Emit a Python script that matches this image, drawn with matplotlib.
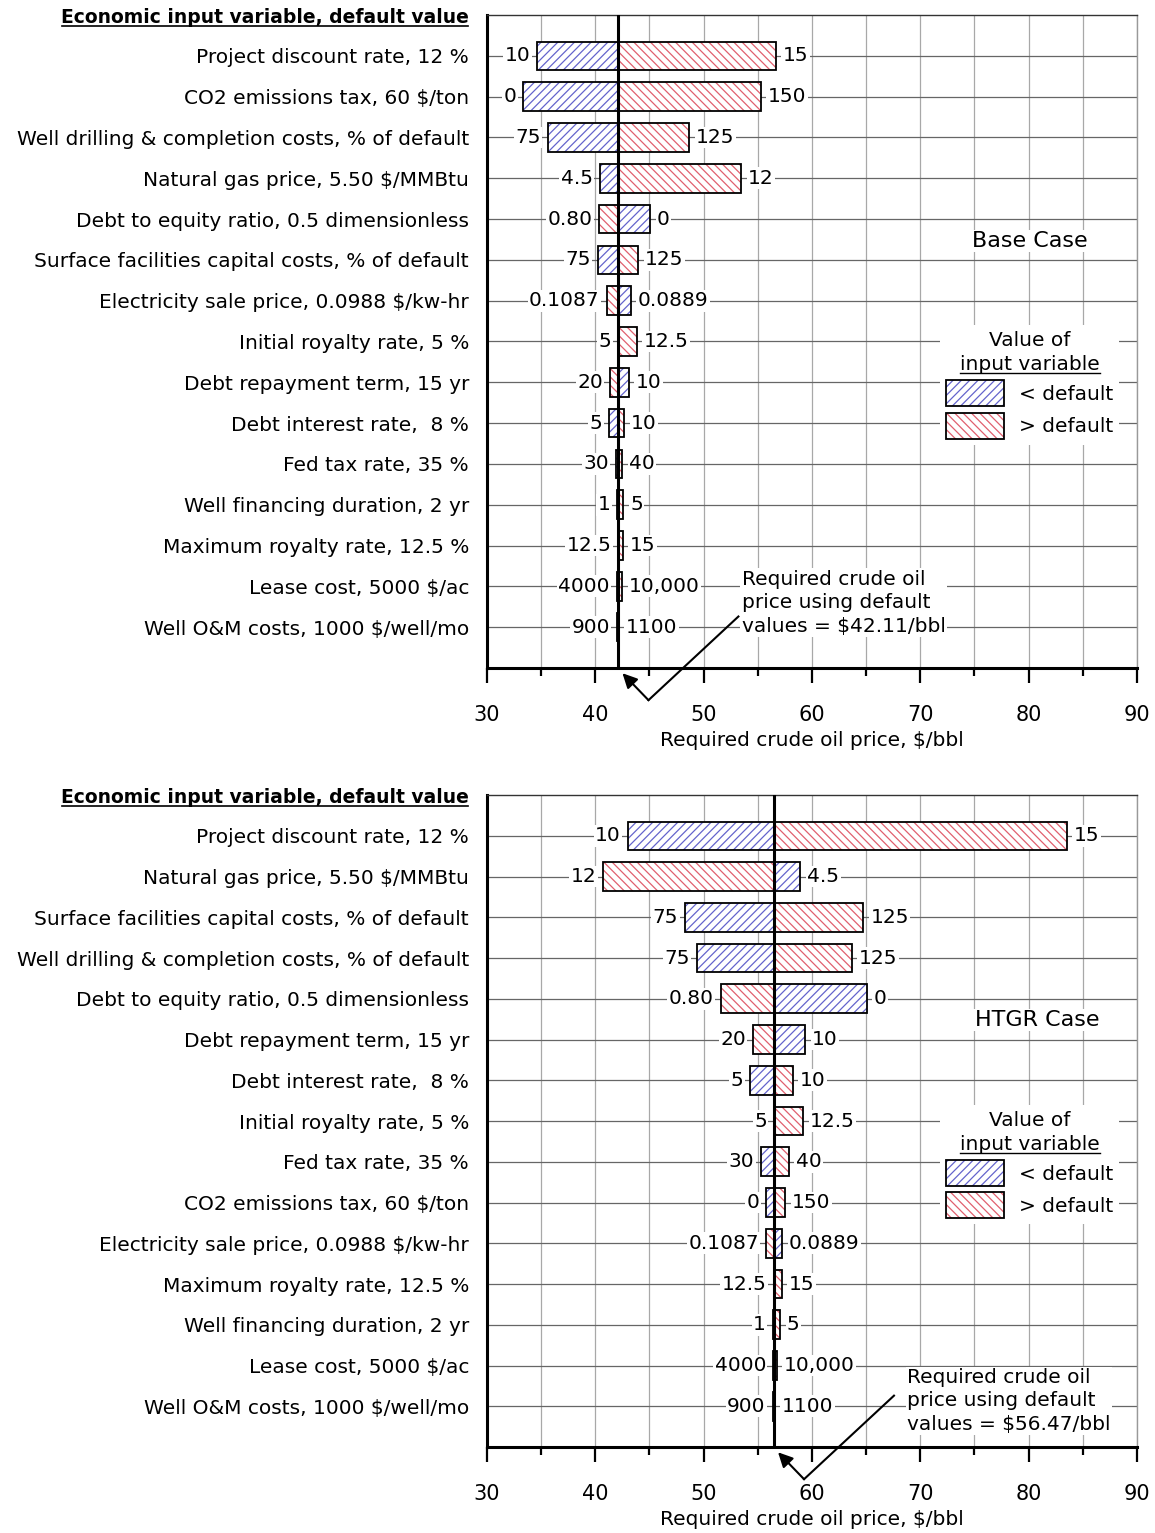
import matplotlib
matplotlib.use('Agg')
import matplotlib.pyplot as plt
from matplotlib.patches import Patch
from matplotlib.lines import Line2D
from matplotlib.legend_handler import HandlerTuple
from matplotlib.transforms import IdentityTransform
from matplotlib.ticker import MultipleLocator
import numpy as np

plt.rcParams['font.family'] = ['DejaVu Sans']
plt.rcParams['hatch.linewidth'] = 0.9

BLUE = '#6464cc'
PINK = '#e0606e'
HEADER = 'Economic input variable, default value'
XLABEL = 'Required crude oil price, $/bbl'

# ---- Base case ----
base_default = 42.11
base_vars = ['Project discount rate, 12 %',
             'CO2 emissions tax, 60 $/ton',
             'Well drilling & completion costs, % of default',
             'Natural gas price, 5.50 $/MMBtu',
             'Debt to equity ratio, 0.5 dimensionless',
             'Surface facilities capital costs, % of default',
             'Electricity sale price, 0.0988 $/kw-hr',
             'Initial royalty rate, 5 %',
             'Debt repayment term, 15 yr',
             'Debt interest rate,  8 %',
             'Fed tax rate, 35 %',
             'Well financing duration, 2 yr',
             'Maximum royalty rate, 12.5 %',
             'Lease cost, 5000 $/ac',
             'Well O&M costs, 1000 $/well/mo']
# input value below default (blue) and resulting oil price
base_low_lab = ['10', '0', '75', '4.5', '0', '75', '0.0889', '5', '10', '5',
                '30', '1', '12.5', '4000', '900']
base_low = [34.65, 33.35, 35.6, 40.4, 45.05, 40.22, 43.27, 42.11, 43.1, 41.29,
            41.87, 42.05, 42.11, 41.97, 42.0]
# input value above default (pink) and resulting oil price
base_high_lab = ['15', '150', '125', '12', '0.80', '125', '0.1087', '12.5', '20', '10',
                 '40', '5', '15', '10,000', '1100']
base_high = [56.65, 55.27, 48.68, 53.48, 40.37, 43.97, 41.05, 43.82, 41.35, 42.68,
             42.48, 42.57, 42.55, 42.48, 42.18]

# ---- HTGR case ----
htgr_default = 56.47
htgr_vars = ['Project discount rate, 12 %',
             'Natural gas price, 5.50 $/MMBtu',
             'Surface facilities capital costs, % of default',
             'Well drilling & completion costs, % of default',
             'Debt to equity ratio, 0.5 dimensionless',
             'Debt repayment term, 15 yr',
             'Debt interest rate,  8 %',
             'Initial royalty rate, 5 %',
             'Fed tax rate, 35 %',
             'CO2 emissions tax, 60 $/ton',
             'Electricity sale price, 0.0988 $/kw-hr',
             'Maximum royalty rate, 12.5 %',
             'Well financing duration, 2 yr',
             'Lease cost, 5000 $/ac',
             'Well O&M costs, 1000 $/well/mo']
htgr_low_lab = ['10', '4.5', '75', '75', '0', '10', '5', '5', '30', '0',
                '0.0889', '12.5', '1', '4000', '900']
htgr_low = [43.02, 58.94, 48.3, 49.37, 65.06, 59.39, 54.31, 56.47, 55.32, 55.78,
            57.25, 56.47, 56.38, 56.4, 56.36]
htgr_high_lab = ['15', '12', '125', '125', '0.80', '20', '10', '12.5', '40', '150',
                 '0.1087', '15', '5', '10,000', '1100']
htgr_high = [83.5, 40.72, 64.75, 63.68, 51.56, 54.56, 58.21, 59.17, 57.86, 57.53,
             55.75, 57.2, 57.05, 56.75, 56.56]

FS = 14.5
WHITE_BOX = dict(facecolor='white', edgecolor='none', pad=1.0)


def tornado(ax, variables, low_lab, low, high_lab, high, default, case_name,
            case_xy, note_x, note_y):
    n = len(variables)
    y = np.arange(n)
    low = np.array(low)
    high = np.array(high)

    # hatched fill first, black outline on top
    for vals, col, hatch in [(low, BLUE, '////'), (high, PINK, '\\\\\\\\')]:
        ax.barh(y, vals - default, left=default, height=0.7, color='white',
                edgecolor=col, hatch=hatch, linewidth=0, zorder=2)
        ax.barh(y, vals - default, left=default, height=0.7, fill=False,
                edgecolor='black', linewidth=1.3, zorder=3)

    for i in range(n):
        (lx, ltxt), (rx, rtxt) = sorted([(low[i], low_lab[i]), (high[i], high_lab[i])])
        ax.annotate(ltxt, xy=(min(lx, default), i), xytext=(-5, 0),
                    textcoords='offset points', ha='right', va='center',
                    fontsize=FS, bbox=WHITE_BOX, zorder=4)
        ax.annotate(rtxt, xy=(max(rx, default), i), xytext=(5, 0),
                    textcoords='offset points', ha='left', va='center',
                    fontsize=FS, bbox=WHITE_BOX, zorder=4)

    ax.axvline(default, color='black', lw=2.2, zorder=5)

    ax.set_xlim(30, 90)
    ax.set_ylim(n, -1)
    ax.set_yticks(y)
    ax.set_yticklabels(variables, fontsize=FS)
    ax.tick_params(axis='y', length=0, pad=13)
    ax.xaxis.set_major_locator(MultipleLocator(10))
    ax.xaxis.set_minor_locator(MultipleLocator(5))
    ax.tick_params(axis='x', which='major', direction='out', length=11, width=1.6,
                   labelsize=15, pad=16)
    ax.tick_params(axis='x', which='minor', direction='out', length=6, width=1.6)
    ax.set_xlabel(XLABEL, fontsize=FS, labelpad=4)

    ax.set_axisbelow(True)
    ax.grid(axis='x', which='both', color='#a8a8a8', lw=0.9)
    ax.grid(axis='y', which='major', color='#666666', lw=0.9)
    ax.spines['left'].set_linewidth(2.2)
    ax.spines['bottom'].set_linewidth(2.2)
    ax.spines['top'].set_linewidth(1.0)
    ax.spines['top'].set_color('#333333')
    ax.spines['right'].set_linewidth(1.0)
    ax.spines['right'].set_color('#999999')

    header = ax.annotate(HEADER, xy=(0, -1), xycoords=('axes fraction', 'data'),
                         xytext=(-13, -1.5), textcoords='offset points', ha='right',
                         va='center', fontsize=13.5, fontweight='bold')

    ax.text(case_xy[0], case_xy[1], case_name, transform=ax.transAxes, ha='center',
            va='center', fontsize=16, bbox=WHITE_BOX, zorder=4)

    # note with arrow pointing to the default price
    ax.text(default + note_x, note_y,
            'Required crude oil\nprice using default\nvalues = $%.2f/bbl' % default,
            ha='left', va='center', fontsize=FS, linespacing=1.3,
            bbox=WHITE_BOX, zorder=4)
    ax.plot([default + 11.1, default + 2.8], [13.74, 15.79], color='black', lw=1.5,
            clip_on=False, zorder=6)
    ax.annotate('', xy=(default + 0.4, 15.13), xytext=(default + 2.8, 15.79),
                arrowprops=dict(arrowstyle='-|>', color='black', lw=1.5,
                                mutation_scale=22, shrinkA=0, shrinkB=0),
                annotation_clip=False, zorder=6)

    handles = [(Patch(facecolor='white', edgecolor=BLUE, hatch='////', lw=0),
                Patch(fill=False, edgecolor='black', lw=1.3)),
               (Patch(facecolor='white', edgecolor=PINK, hatch='\\\\\\\\', lw=0),
                Patch(fill=False, edgecolor='black', lw=1.3))]
    leg = ax.legend(handles, ['< default', '> default'],
                    handler_map={tuple: HandlerTuple(ndivide=1, pad=0)},
                    title='Value of\ninput variable', loc='upper center',
                    bbox_to_anchor=(0.835, 0.540), frameon=True, framealpha=1,
                    facecolor='white', edgecolor='none', fancybox=False,
                    fontsize=FS, title_fontsize=FS, handlelength=2.85,
                    handleheight=1.6, labelspacing=0.32, handletextpad=0.75,
                    borderpad=0.3)
    leg.get_title().set_multialignment('center')
    leg.get_title().set_linespacing(1.3)
    return header, leg


fig = plt.figure(figsize=(11.55, 15.33), dpi=100)
ax1 = fig.add_axes([0.4216, 0.5643, 0.5628, 0.4259])
ax2 = fig.add_axes([0.4216, 0.0561, 0.5628, 0.4253])

h1, l1 = tornado(ax1, base_vars, base_low_lab, base_low, base_high_lab, base_high,
                 base_default, 'Base Case', (0.835, 0.654), 11.4, 13.4)
h2, l2 = tornado(ax2, htgr_vars, htgr_low_lab, htgr_low, htgr_high_lab, htgr_high,
                 htgr_default, 'HTGR Case', (0.846, 0.655), 12.3, 13.87)

# underlines (drawn in pixel coordinates after layout)
fig.canvas.draw()
renderer = fig.canvas.get_renderer()
tmp = fig.text(0, 0, 'input variable', fontsize=FS)
w_iv = tmp.get_window_extent(renderer).width
tmp.remove()
for h, leg in [(h1, l1), (h2, l2)]:
    bb = h.get_window_extent(renderer)
    fig.add_artist(Line2D([bb.x0 + 1, bb.x1 - 1], [bb.y0 + 1, bb.y0 + 1],
                          transform=IdentityTransform(), color='black', lw=1.2))
    tb = leg.get_title().get_window_extent(renderer)
    cx = (tb.x0 + tb.x1) / 2
    fig.add_artist(Line2D([cx - w_iv / 2, cx + w_iv / 2], [tb.y0 + 1, tb.y0 + 1],
                          transform=IdentityTransform(), color='black', lw=1.0))

fig.savefig('out.png', dpi=100, facecolor='white')
